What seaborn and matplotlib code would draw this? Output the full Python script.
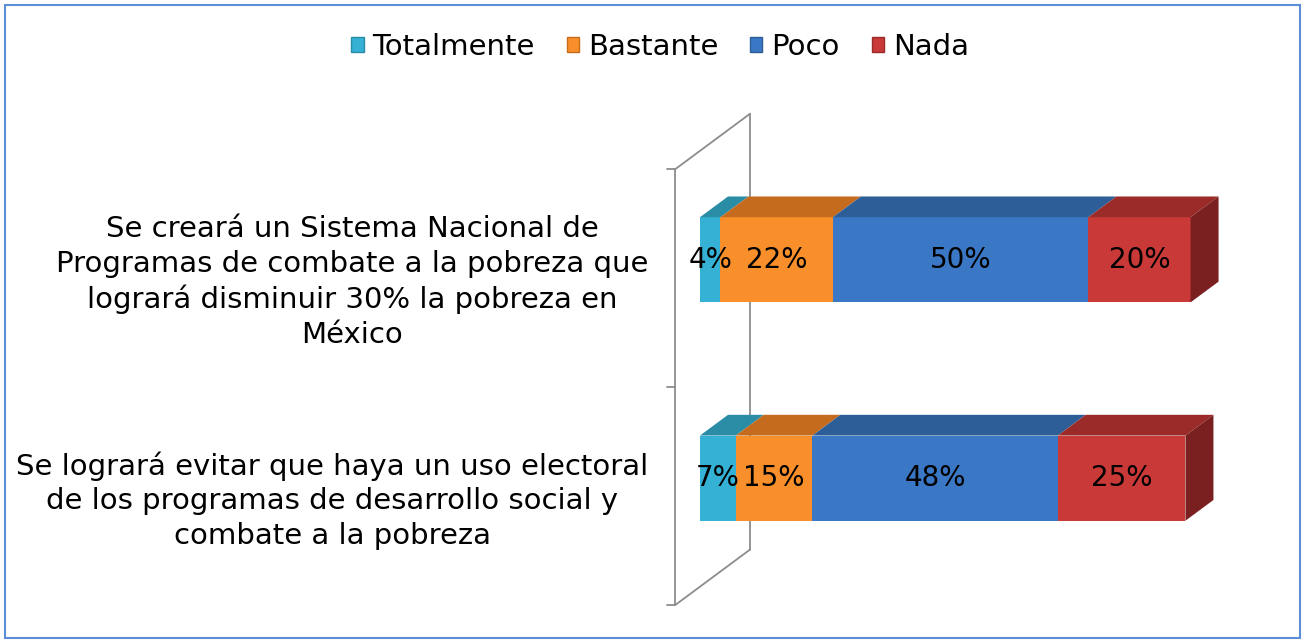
import numpy as np
import pandas as pd
import seaborn as sns
from matplotlib import pyplot as plt
from matplotlib.patches import Patch, Polygon, Rectangle

# datos
preguntas = [
    "Se creará un Sistema Nacional de\nProgramas de combate a la pobreza que\nlogrará disminuir 30% la pobreza en\nMéxico",
    "Se logrará evitar que haya un uso electoral\nde los programas de desarrollo social y\ncombate a la pobreza",
]
niveles = ["Totalmente", "Bastante", "Poco", "Nada"]
totalmente = [4, 7]
bastante = [22, 15]
poco = [50, 48]
nada = [20, 25]

colores = ["#34b1d5", "#f98f2a", "#3a77c4", "#c83938"]
colores_top = ["#2a8ca5", "#c46b1e", "#2d5e97", "#9a2b29"]
color_lado = "#7a2020"

sns.set_theme(style="white")
plt.rcParams["font.family"] = ["DejaVu Sans"]
plt.rcParams["text.color"] = "black"

df = pd.DataFrame({"pregunta": preguntas, "Totalmente": totalmente,
                   "Bastante": bastante, "Poco": poco, "Nada": nada})
acum = df[niveles].cumsum(axis=1)

fig = plt.figure(figsize=(13.06, 6.43), dpi=100)
ax = fig.add_axes([700 / 1306, 1 - 630 / 643, 511 / 1306, 530 / 643])

ancho = 0.39
# barras apiladas (de mayor acumulado a menor)
for k in range(len(niveles) - 1, -1, -1):
    sns.barplot(x=acum[niveles[k]], y=df["pregunta"], orient="h", color=colores[k],
                saturation=1, width=ancho, linewidth=0, ax=ax)

ax.set_xlim(0, 100)
ax.set_ylim(1.6955, -0.7318)

# efecto 3D
dx, dy = 5.48, -0.095
for i in range(len(preguntas)):
    y0, y1 = i - ancho / 2, i + ancho / 2
    izq = 0
    for k, nivel in enumerate(niveles):
        der = acum.loc[i, nivel]
        ax.add_patch(Polygon([(izq, y0), (der, y0), (der + dx, y0 + dy), (izq + dx, y0 + dy)],
                             closed=True, fc=colores_top[k], ec="none", zorder=3, clip_on=False))
        ax.text((izq + der) / 2, i, f"{df.loc[i, nivel]}%", ha="center", va="center",
                fontsize=20, color="black", zorder=5)
        izq = der
    ax.add_patch(Polygon([(izq, y0), (izq + dx, y0 + dy), (izq + dx, y1 + dy), (izq, y1)],
                         closed=True, fc=color_lado, ec="none", zorder=3, clip_on=False))

# pared del eje
gris = "#8c8c8c"
xf, xb, dyw = -4.9, 9.8, -0.255
yt = [-0.414, 0.582, 1.582]
ax.plot([xf, xf], [yt[0], yt[-1]], color=gris, lw=1.3, clip_on=False, zorder=0.5)
ax.plot([xb, xb], [yt[0] + dyw, yt[-1] + dyw], color=gris, lw=1.3, clip_on=False, zorder=0.5)
ax.plot([xf, xb], [yt[0], yt[0] + dyw], color=gris, lw=1.3, clip_on=False, zorder=0.5)
ax.plot([xf, xb], [yt[-1], yt[-1] + dyw], color=gris, lw=1.3, clip_on=False, zorder=0.5)
for y in yt:
    ax.plot([xf - 1.6, xf], [y, y], color=gris, lw=1.3, clip_on=False, zorder=0.5)

ax.set_yticks([0.073, 1.073], labels=preguntas)
ax.tick_params(axis="y", length=0, pad=37, labelsize=21, labelcolor="black")
for t in ax.get_yticklabels():
    t.set_multialignment("center")
    t.set_linespacing(1.3)
ax.set_xticks([])
ax.set_xlabel("")
ax.set_ylabel("")
sns.despine(ax=ax, left=True, bottom=True)

handles = [Patch(facecolor=colores[k], edgecolor=colores_top[k], lw=1) for k in range(4)]
leg = fig.legend(handles, niveles, loc="center", bbox_to_anchor=(660 / 1306, 1 - 47 / 643), ncol=4,
                 frameon=False, fontsize=21, handlelength=0.42, handleheight=0.42,
                 handletextpad=0.3, columnspacing=1.1)
for t in leg.get_texts():
    t.set_color("black")

fig.add_artist(Rectangle((5 / 1306, 5 / 643), 1295 / 1306, 633 / 643, transform=fig.transFigure,
                         fill=False, ec="#5b8ed6", lw=1.5))

fig.savefig("out.png", dpi=100)
